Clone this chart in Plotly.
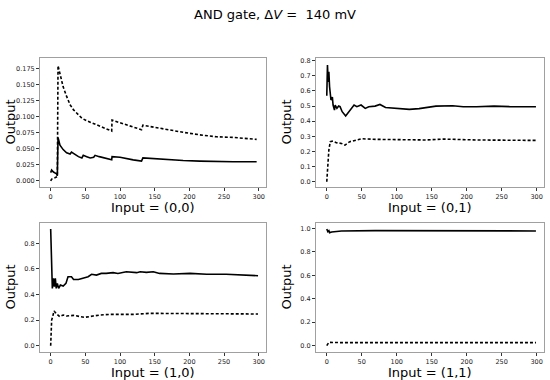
import plotly.graph_objects as go

# ---- data ----
x00_solid = [0, 1.4, 4, 8.6, 9.6, 10.6, 13.4, 18, 23, 28, 30, 35, 40, 45, 47, 52, 57, 62, 64, 70, 80, 88, 88.5, 100, 119, 131, 133, 145, 167, 191, 215, 239, 263, 297]
y00_solid = [0.013, 0.017, 0.014, 0.011, 0.008, 0.068, 0.056, 0.049, 0.044, 0.042, 0.045, 0.041, 0.038, 0.036, 0.040, 0.038, 0.036, 0.037, 0.040, 0.038, 0.035, 0.033, 0.038, 0.037, 0.033, 0.031, 0.036, 0.035, 0.034, 0.032, 0.031, 0.030, 0.030, 0.030]
x00_dash = [0, 1.5, 6, 9.6, 10.6, 13.4, 18, 23, 28, 33, 40, 45, 52, 61, 71, 81, 88, 88.5, 100, 119, 131, 133, 143, 167, 191, 215, 239, 263, 297]
y00_dash = [0.0, 0.003, 0.005, 0.007, 0.180, 0.168, 0.147, 0.132, 0.119, 0.111, 0.103, 0.098, 0.094, 0.090, 0.086, 0.082, 0.078, 0.095, 0.091, 0.084, 0.080, 0.087, 0.085, 0.080, 0.076, 0.072, 0.069, 0.068, 0.065]

x01_solid = [0, 1, 2, 3, 4, 5, 6, 8, 9, 11, 12, 14.5, 17, 19, 22, 27, 30, 34, 39, 43, 49, 55, 60, 69, 76, 84, 98, 118, 132, 147, 156, 180, 195, 214, 239, 263, 299]
y01_solid = [0.569, 0.771, 0.66, 0.727, 0.628, 0.584, 0.54, 0.56, 0.507, 0.474, 0.507, 0.485, 0.5, 0.496, 0.463, 0.434, 0.452, 0.474, 0.507, 0.496, 0.507, 0.485, 0.496, 0.5, 0.511, 0.491, 0.485, 0.478, 0.483, 0.491, 0.5, 0.502, 0.496, 0.496, 0.5, 0.496, 0.496]
x01_dash = [0, 1.5, 3, 5, 9, 13.5, 21, 26, 33, 43, 50, 70, 100, 142, 166, 214, 299]
y01_dash = [0.0, 0.143, 0.21, 0.265, 0.269, 0.258, 0.253, 0.242, 0.265, 0.276, 0.284, 0.28, 0.28, 0.276, 0.282, 0.276, 0.273]

x10_solid = [0, 2.4, 4, 5.3, 6.7, 8, 9.6, 11.5, 14, 18, 22, 25, 30, 33, 40, 47, 54, 59, 66, 73, 80, 90, 97, 109, 124, 129, 138, 148, 157, 177, 201, 225, 253, 299]
y10_solid = [0.912, 0.448, 0.526, 0.461, 0.526, 0.448, 0.487, 0.448, 0.474, 0.466, 0.487, 0.539, 0.539, 0.518, 0.518, 0.526, 0.539, 0.558, 0.552, 0.565, 0.565, 0.571, 0.565, 0.578, 0.571, 0.578, 0.573, 0.578, 0.565, 0.560, 0.565, 0.558, 0.558, 0.547]
x10_dash = [0, 1.4, 2.9, 4.8, 8.6, 13, 18, 23, 33, 42, 49, 61, 71, 85, 119, 143, 167, 215, 263, 299]
y10_dash = [0.0, 0.2, 0.227, 0.271, 0.248, 0.227, 0.24, 0.232, 0.237, 0.227, 0.222, 0.232, 0.24, 0.245, 0.245, 0.253, 0.253, 0.248, 0.248, 0.248]

x11_solid = [0, 1.5, 3, 4, 7, 13.5, 21, 69, 166, 299]
y11_solid = [0.994, 0.972, 0.98, 0.963, 0.969, 0.974, 0.977, 0.98, 0.98, 0.977]
x11_dash = [0, 1.5, 3, 21, 299]
y11_dash = [0.0, 0.02, 0.028, 0.026, 0.026]

panels = [
    ("(0,0)", x00_solid, y00_solid, x00_dash, y00_dash),
    ("(0,1)", x01_solid, y01_solid, x01_dash, y01_dash),
    ("(1,0)", x10_solid, y10_solid, x10_dash, y10_dash),
    ("(1,1)", x11_solid, y11_solid, x11_dash, y11_dash),
]
y_ranges = [[-0.0094, 0.192], [-0.035, 0.818], [-0.049, 0.959], [-0.054, 1.045]]
y_ticks = [
    [0.0, 0.025, 0.05, 0.075, 0.1, 0.125, 0.15, 0.175],
    [0.0, 0.1, 0.2, 0.3, 0.4, 0.5, 0.6, 0.7, 0.8],
    [0.0, 0.2, 0.4, 0.6, 0.8],
    [0.0, 0.2, 0.4, 0.6, 0.8, 1.0],
]
y_fmt = [".3f", ".1f", ".1f", ".1f"]
x_ticks = [0, 50, 100, 150, 200, 250, 300]

W, H = 550, 380
x_px = [[40, 266], [316, 544]]
y_px = [[58, 187], [223, 352]]
x_dom = [[a / W, b / W] for a, b in x_px]
y_dom = [[1 - b / H, 1 - a / H] for a, b in y_px]
xtitle_top = [199, 364]
ytitle_x = [10, 286]

FONT = "DejaVu Sans"
fig = go.Figure()
layout = {}
annots = []
for i, (lab, xs, ys, xd, yd) in enumerate(panels):
    r, c = divmod(i, 2)
    n = "" if i == 0 else str(i + 1)
    fig.add_trace(go.Scatter(x=xd, y=yd, mode="lines", xaxis="x" + n, yaxis="y" + n,
                             line=dict(color="black", width=1.6, dash="3px,2px"), showlegend=False))
    fig.add_trace(go.Scatter(x=xs, y=ys, mode="lines", xaxis="x" + n, yaxis="y" + n,
                             line=dict(color="black", width=1.6), showlegend=False))
    common = dict(showgrid=False, zeroline=False, showline=True, mirror=True, linecolor="#a0a0a0",
                  linewidth=1, ticks="outside", ticklen=3, tickwidth=1, tickcolor="#333",
                  tickfont=dict(family=FONT, size=6.5, color="#222"))
    layout["xaxis" + n] = dict(common, domain=x_dom[c], anchor="y" + n, range=[-15.4, 310.5],
                               tickvals=x_ticks)
    layout["yaxis" + n] = dict(common, domain=y_dom[r], anchor="x" + n, range=y_ranges[i],
                               tickvals=y_ticks[i], tickformat=y_fmt[i])
    annots.append(dict(text="Input = " + lab, xref="paper", yref="paper",
                       x=sum(x_px[c]) / 2 / W, y=1 - xtitle_top[r] / H, xanchor="center", yanchor="top",
                       showarrow=False, borderpad=0, font=dict(family=FONT, size=13, color="black")))
    annots.append(dict(text="Output", xref="paper", yref="paper", textangle=-90,
                       x=ytitle_x[c] / W, y=1 - sum(y_px[r]) / 2 / H, xanchor="center", yanchor="middle",
                       showarrow=False, borderpad=0, font=dict(family=FONT, size=13, color="black")))
fig.update_layout(**layout)
fig.update_layout(
    width=W, height=H, margin=dict(l=0, r=0, t=0, b=0),
    paper_bgcolor="white", plot_bgcolor="white", annotations=annots,
    title=dict(text="AND gate, Δ<i>V</i> =  140 mV", x=0.5, xanchor="center", y=1 - 14 / H, yanchor="middle",
               font=dict(family=FONT, size=13, color="black")),
)
fig.write_html("out.html", config={"displayModeBar": False},
               post_script="document.body.style.margin='0px';document.body.style.overflow='hidden';")
